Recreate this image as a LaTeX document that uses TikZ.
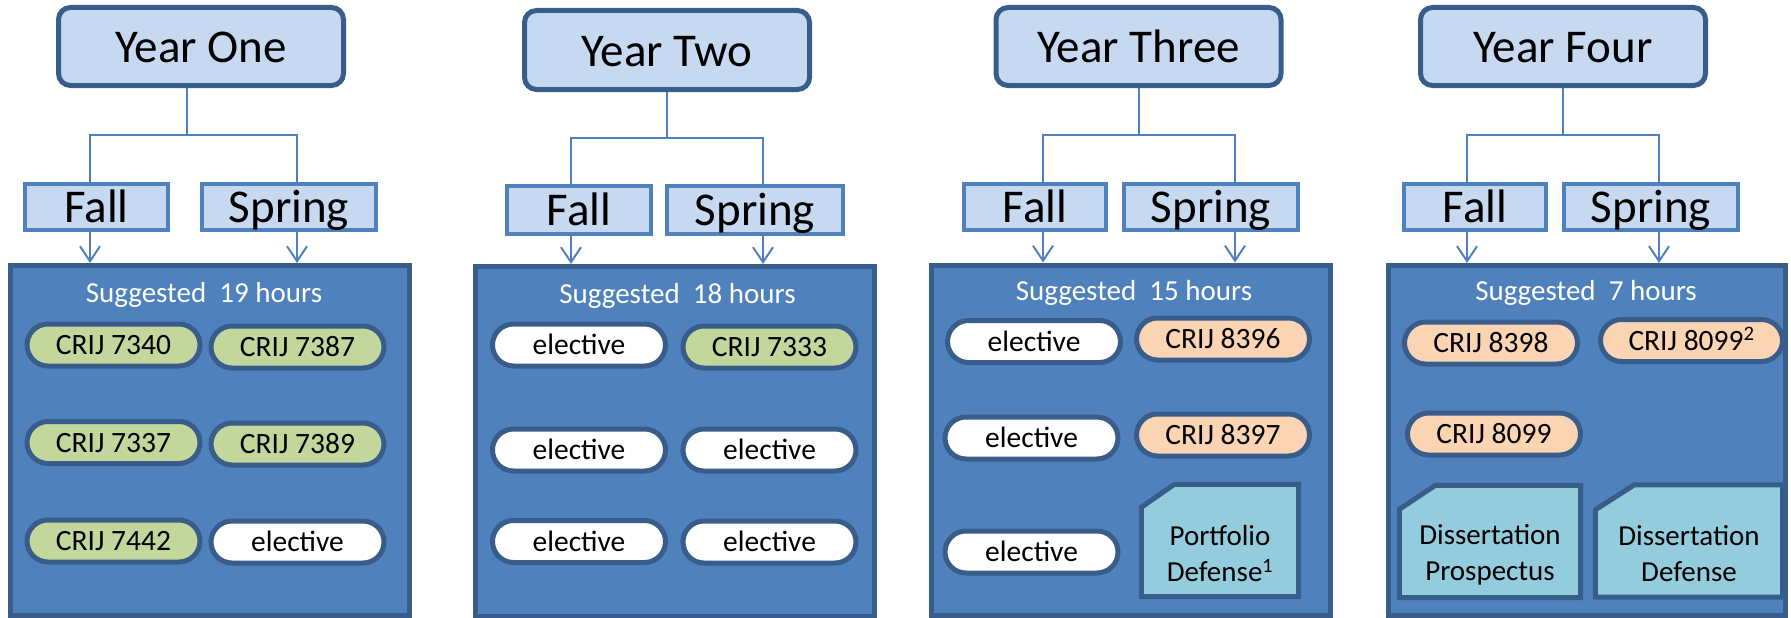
\documentclass[tikz,border=0pt]{standalone}
\usepackage{fontspec}
\setmainfont{Carlito}
\usetikzlibrary{arrows.meta,positioning}
\definecolor{yearfill}{HTML}{C6D9F1}
\definecolor{darkedge}{HTML}{385D8A}
\definecolor{accent}{HTML}{4F81BD}
\definecolor{corefill}{HTML}{C3D69B}
\definecolor{advfill}{HTML}{FBD4B4}
\definecolor{snipfill}{HTML}{93CDDD}
\tikzset{
    year box/.style={draw=darkedge,line width=5pt,fill=yearfill,rounded corners=12pt,
        minimum width=285pt,minimum height=78pt,inner sep=0pt,
        font=\fontsize{47}{56}\selectfont,text height=33pt,text depth=0pt},
    term box/.style={draw=accent,line width=4pt,fill=yearfill,minimum height=46pt,inner sep=0pt,
        font=\fontsize{47}{56}\selectfont,text height=30pt,text depth=0pt},
    panel/.style={draw=darkedge,line width=5pt,fill=accent,
        minimum width=399pt,minimum height=350pt,inner sep=0pt},
    hours/.style={text=white,anchor=base,inner sep=0pt,font=\fontsize{29}{35}\selectfont},
    course/.style={draw=darkedge,line width=5pt,fill=#1,rounded corners=21pt,
        minimum width=173pt,minimum height=42pt,inner sep=0pt,
        font=\fontsize{29.5}{35}\selectfont,text height=19pt,text depth=0pt},
    course/.default=white,
    milestone/.style={minimum height=112pt,inner sep=0pt},
    snip edge/.style={draw=darkedge,line width=5pt,fill=snipfill},
    milestone text/.style={align=center,yshift=-13pt,inner sep=0pt,font=\fontsize{29}{36}\selectfont},
    link/.style={draw=accent,line width=2pt},
    feed/.style={link,-{Straight Barb[length=15pt,width=20pt]}}
}

\begin{document}
\begin{tikzpicture}[x=1pt,y=-1pt]
\useasboundingbox (0,0) rectangle (1791,618);

% ========= Year One =========
\node[year box] (y1) at (201,46.5) {Year One};
\node[term box,minimum width=143pt] (f1) at (96.5,207) {Fall};
\node[term box,minimum width=174pt] (s1) at (289,207) {Spring};
\node[panel] (p1) at (210,440.5) {};
\coordinate (j1) at (187,135);
\coordinate (fa1) at (90,135);
\coordinate (sp1) at (297,135);
\draw[link] (y1.south -| j1) -- (j1);
\draw[link] (fa1 |- f1.north) -- (fa1) -- (sp1) -- (sp1 |- s1.north);
\draw[feed] (fa1 |- f1.south) -- (fa1 |- p1.north);
\draw[feed] (sp1 |- s1.south) -- (sp1 |- p1.north);
\node[hours] (h1) at (204,302) {Suggested\ \ 19 hours};
\node[course=corefill] (c1a) at (113.5,345) {CRIJ 7340};
\node[course=corefill] (c1b) at (297.5,347) {CRIJ 7387};
\node[course=corefill] (c1c) at (113.5,442.5) {CRIJ 7337};
\node[course=corefill] (c1d) at (297.5,444) {CRIJ 7389};
\node[course=corefill] (c1e) at (113.5,541) {CRIJ 7442};
\node[course] (c1f) at (297.5,542) {elective};

% ========= Year Two =========
\node[year box,minimum height=79pt] (y2) at (667,50) {Year Two};
\node[term box,minimum width=144pt,minimum height=48pt] (f2) at (579,210) {Fall};
\node[term box,minimum width=176pt,minimum height=48pt] (s2) at (755,210) {Spring};
\node[panel] (p2) at (675,441.5) {};
\coordinate (j2) at (667,138);
\coordinate (fa2) at (571,138);
\coordinate (sp2) at (763,138);
\draw[link] (y2.south -| j2) -- (j2);
\draw[link] (fa2 |- f2.north) -- (fa2) -- (sp2) -- (sp2 |- s2.north);
\draw[feed] (fa2 |- f2.south) -- (fa2 |- p2.north);
\draw[feed] (sp2 |- s2.south) -- (sp2 |- p2.north);
\node[hours] (h2) at (677.5,303) {Suggested\ \ 18 hours};
\node[course] (c2a) at (579,345) {elective};
\node[course=corefill] (c2b) at (769.5,347) {CRIJ 7333};
\node[course] (c2c) at (579,450) {elective};
\node[course] (c2d) at (769.5,450) {elective};
\node[course] (c2e) at (579,541.5) {elective};
\node[course] (c2f) at (769.5,542) {elective};

% ========= Year Three =========
\node[year box] (y3) at (1138.5,46.5) {Year Three};
\node[term box,minimum width=142pt] (f3) at (1035,207) {Fall};
\node[term box,minimum width=174pt] (s3) at (1211,207) {Spring};
\node[panel] (p3) at (1131,440) {};
\coordinate (j3) at (1139,135);
\coordinate (fa3) at (1043,135);
\coordinate (sp3) at (1235,135);
\draw[link] (y3.south -| j3) -- (j3);
\draw[link] (fa3 |- f3.north) -- (fa3) -- (sp3) -- (sp3 |- s3.north);
\draw[feed] (fa3 |- f3.south) -- (fa3 |- p3.north);
\draw[feed] (sp3 |- s3.south) -- (sp3 |- p3.north);
\node[hours] (h3) at (1134,300) {Suggested\ \ 15 hours};
\node[course] (c3a) at (1034,341.5) {elective};
\node[course=advfill] (c3b) at (1223,339) {CRIJ 8396};
\node[course] (c3c) at (1031.5,438) {elective};
\node[course=advfill] (c3d) at (1223,435) {CRIJ 8397};
\node[course] (c3e) at (1031.5,552) {elective};
% snipped box
\node[milestone,minimum width=157pt] (m3) at (1220,540.5) {};
\filldraw[snip edge] ([yshift=-23pt]m3.north west) -- ([xshift=33pt]m3.north west)
    -- (m3.north east) -- (m3.south east) -- (m3.south west) -- cycle;
\node[milestone text] (m3t) at (m3.center) {Portfolio\\Defense\textsuperscript{1}};

% ========= Year Four =========
\node[year box] (y4) at (1563,46.5) {Year Four};
\node[term box,minimum width=142pt] (f4) at (1475,207) {Fall};
\node[term box,minimum width=174pt] (s4) at (1651,207) {Spring};
\node[panel,minimum width=397pt] (p4) at (1587,440.5) {};
\coordinate (j4) at (1563,135);
\coordinate (fa4) at (1467,135);
\coordinate (sp4) at (1659,135);
\draw[link] (y4.south -| j4) -- (j4);
\draw[link] (fa4 |- f4.north) -- (fa4) -- (sp4) -- (sp4 |- s4.north);
\draw[feed] (fa4 |- f4.south) -- (fa4 |- p4.north);
\draw[feed] (sp4 |- s4.south) -- (sp4 |- p4.north);
\node[hours] (h4) at (1586,300) {Suggested\ \ 7 hours};
\node[course=advfill] (c4a) at (1491,343) {CRIJ 8398};
\node[course=advfill,minimum width=182pt] (c4b) at (1691.5,340.5) {CRIJ 8099\textsuperscript{2}};
\node[course=advfill] (c4c) at (1494,434) {CRIJ 8099};
% snipped boxes
\node[milestone,minimum width=181pt] (m4a) at (1490,541.5) {};
\filldraw[snip edge] ([yshift=-24pt]m4a.north west) -- ([xshift=36pt]m4a.north west)
    -- (m4a.north east) -- (m4a.south east) -- (m4a.south west) -- cycle;
\node[milestone text] (m4at) at (m4a.center) {Dissertation\\Prospectus};
\node[milestone,minimum width=187pt] (m4b) at (1689,541) {};
\filldraw[snip edge] ([yshift=-25pt]m4b.north west) -- ([xshift=39pt]m4b.north west)
    -- (m4b.north east) -- (m4b.south east) -- (m4b.south west) -- cycle;
\node[milestone text] (m4bt) at (m4b.center) {Dissertation\\Defense};

\end{tikzpicture}
\end{document}
